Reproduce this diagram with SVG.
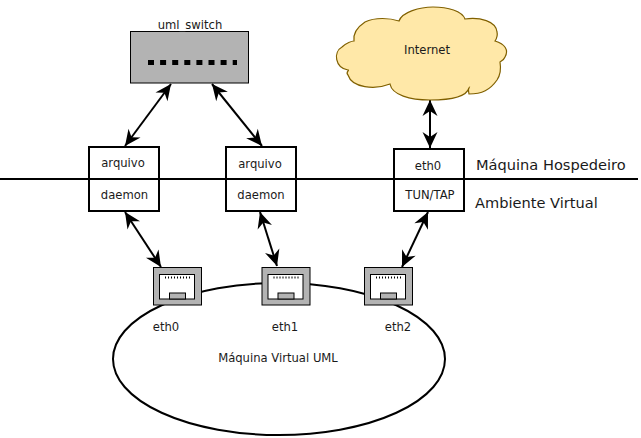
<svg xmlns="http://www.w3.org/2000/svg" width="641" height="438" viewBox="0 0 641 438">
<style>
text{font-family:"DejaVu Sans",sans-serif;font-size:11.600px;fill:#1a1a1a;text-anchor:middle}
.big{font-size:14.600px;text-anchor:start}
.box{fill:none;stroke:#000;stroke-width:2}
.port{fill:#b3b3b3;stroke:#000;stroke-width:1}
.hole{fill:#fff;stroke:#000;stroke-width:1}
.tick{fill:none;stroke:#000;stroke-width:2;stroke-dasharray:1 2}
.conn{fill:none;stroke:#000;stroke-width:2;marker-start:url(#a);marker-end:url(#a)}
.dots{fill:none;stroke:#000;stroke-width:5;stroke-dasharray:6 6.100}
</style>
<defs>
<marker id="a" markerUnits="userSpaceOnUse" markerWidth="20" markerHeight="18" refX="17" refY="9" orient="auto-start-reverse" viewBox="0 0 20 18"><path d="M17 9L1 1.500L6 9L1 16.500Z" fill="#000"/></marker>
<g id="p"><rect class="port" x="0.500" y="0.500" width="48" height="37.500"/><rect class="hole" x="6.500" y="7.500" width="35" height="24.500"/><path class="tick" d="M12 10.500H37"/><rect class="port" x="16.500" y="26" width="16" height="6"/></g>
</defs>
<g id="connectors">
<path class="conn" d="M171 84L125 146"/>
<path class="conn" d="M212 84L262 146"/>
<path class="conn" d="M430 100L430 148"/>
<path class="conn" d="M125 212L161 267"/>
<path class="conn" d="M260 212L277 266"/>
<path class="conn" d="M428 212L402 267"/>
</g>
<g id="host-line"><path d="M0 179H638" fill="none" stroke="#000" stroke-width="2"/></g>
<g id="vm"><ellipse cx="279" cy="359" rx="166" ry="76" fill="#fff" stroke="#000" stroke-width="2"/><text x="278" y="362">Máquina Virtual UML</text></g>
<g id="uml_switch"><rect x="130.500" y="31.500" width="118" height="51.500" fill="#b3b3b3" stroke="#000"/><path class="dots" d="M148 62.500H237"/><text x="190" y="29">uml_switch</text></g>
<g id="internet"><path d="M399 21C402 12 420 7 433 7C448 7 462 11 465 19C480 17 496 21 497 32C498 36 497 38 495 41C505 44 509 50 505 57C504 60 502 61 500 62C501 68 501 74 497 80C490 90 482 94 469 94C468 89 469 88 469 88C467 95 455 100 430 100C410 100 392 95 390 84C375 90 352 88 348 75C345 72 350 70 348 70C335 68 333 52 342 47C346 43 352 41 354 41C353 34 356 28 365 22C375 17 390 18 399 21Z" fill="#ffe8a8" stroke="#806000" stroke-width="1.200"/><text x="427" y="54">Internet</text></g>
<g id="box-arquivo-1"><rect class="box" x="89" y="147" width="70" height="64"/><text x="123" y="167">arquivo</text><text x="124.500" y="199">daemon</text></g>
<g id="box-arquivo-2"><rect class="box" x="226" y="147" width="70" height="64"/><text x="260" y="168">arquivo</text><text x="261" y="199">daemon</text></g>
<g id="box-tun"><rect class="box" x="394" y="149" width="70" height="62"/><text x="428" y="170">eth0</text><text x="430" y="199">TUN/TAP</text></g>
<g id="eth0"><use href="#p" x="153" y="267"/><text x="166" y="331">eth0</text></g>
<g id="eth1"><use href="#p" x="261.500" y="267"/><text x="285" y="331">eth1</text></g>
<g id="eth2"><use href="#p" x="364" y="267"/><text x="398" y="331">eth2</text></g>
<g id="labels"><text class="big" x="476" y="170">Máquina Hospedeiro</text><text class="big" x="475" y="208">Ambiente Virtual</text></g>
</svg>
